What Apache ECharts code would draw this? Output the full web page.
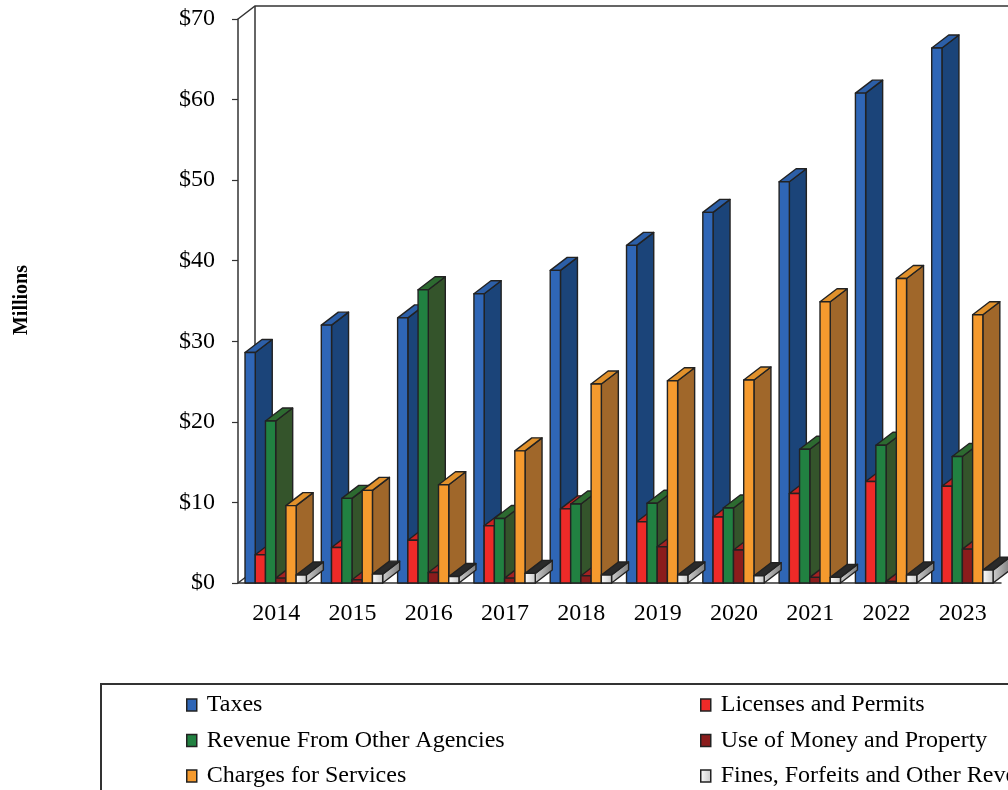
<!DOCTYPE html>
<html>
<head>
    <meta charset="utf-8" />
    <script src="https://cdn.jsdelivr.net/npm/echarts@6/dist/echarts.min.js"></script>
    <title>Revenues</title>
    <style>
        html, body { margin: 0; padding: 0; background: #fff; overflow: hidden; }
        #main { width: 1008px; height: 790px; }
    </style>
</head>
<body>
    <div id="main"></div>
    <script type="text/javascript">
        // categories (fiscal years)
        var years = ['2014', '2015', '2016', '2017', '2018', '2019', '2020', '2021', '2022', '2023'];
        // values in millions of dollars
        var taxes    = [28.6, 32.0, 32.9, 35.9, 38.8, 41.9, 46.0, 49.8, 60.8, 66.4];
        var licenses = [3.5, 4.4, 5.3, 7.1, 9.2, 7.6, 8.2, 11.1, 12.6, 12.0];
        var agencies = [20.1, 10.5, 36.4, 8.0, 9.8, 9.9, 9.3, 16.6, 17.1, 15.7];
        var useMoney = [0.6, 0.4, 1.3, 0.6, 0.9, 4.5, 4.1, 0.7, 0.2, 4.2];
        var charges  = [9.6, 11.5, 12.2, 16.4, 24.7, 25.1, 25.2, 34.9, 37.8, 33.3];
        var fines    = [1.0, 1.1, 0.8, 1.2, 1.0, 1.0, 0.9, 0.7, 1.0, 1.6];
        var yTicks = [0, 10, 20, 30, 40, 50, 60, 70];

        var seriesNames = ['Taxes', 'Licenses and Permits', 'Revenue From Other Agencies',
            'Use of Money and Property', 'Charges for Services', 'Fines, Forfeits and Other Revenue'];
        var seriesData = [taxes, licenses, agencies, useMoney, charges, fines];

        // front / top / side colours for each series
        var faces = [
            { front: '#2f66b6', top: '#2c5fa8', side: '#1b4479' },
            { front: '#ee2a28', top: '#cf2220', side: '#a81c1c' },
            { front: '#218141', top: '#2d6a30', side: '#34542b' },
            { front: '#8b1c1c', top: '#a52222', side: '#5e1212' },
            { front: '#f59a2e', top: '#e1912b', side: '#a0672a' },
            {
                front: new echarts.graphic.LinearGradient(0, 0, 1, 0, [{ offset: 0, color: '#ffffff' }, { offset: 1, color: '#c8c8c8' }]),
                top: '#2a2a2a',
                side: new echarts.graphic.LinearGradient(0, 0, 1, 0, [{ offset: 0, color: '#d0d0d0' }, { offset: 1, color: '#7a7a7a' }])
            }
        ];

        var DX = 17, DY = -13;          // depth offset of the 3d box
        var FONT = 'Liberation Serif, Times New Roman, serif';

        function makeRender(k) {
            return function (params, api) {
                var idx = api.value(0);
                var top = api.coord([idx, api.value(1)]);
                var base = api.coord([idx, 0]);
                var band = api.size([1, 0])[0];
                var w = band * 0.134;
                var x = top[0] - band * 0.408 + k * w;
                var y0 = base[1], y1 = top[1];
                var f = faces[k];
                var st = { stroke: '#222', lineWidth: 1.4, lineJoin: 'round' };
                return {
                    type: 'group',
                    children: [
                        {
                            type: 'polygon',
                            shape: { points: [[x + w, y1], [x + w + DX, y1 + DY], [x + w + DX, y0 + DY], [x + w, y0]] },
                            style: Object.assign({ fill: f.side }, st)
                        },
                        {
                            type: 'polygon',
                            shape: { points: [[x, y1], [x + w, y1], [x + w + DX, y1 + DY], [x + DX, y1 + DY]] },
                            style: Object.assign({ fill: f.top }, st)
                        },
                        {
                            type: 'rect',
                            shape: { x: x, y: y1, width: w, height: y0 - y1 },
                            style: Object.assign({ fill: f.front }, st)
                        }
                    ]
                };
            };
        }

        var series = [];
        for (var k = 0; k < seriesNames.length; k++) {
            var d = [];
            for (var i = 0; i < years.length; i++) {
                d.push([i, seriesData[k][i]]);
            }
            series.push({
                name: seriesNames[k],
                type: 'custom',
                renderItem: makeRender(k),
                itemStyle: { color: k == 5 ? '#e0e0e0' : faces[k].front },
                encode: { x: 0, y: 1 },
                data: d,
                z: 2
            });
        }

        // one legend per entry, laid out in two columns of three rows
        var legendText = { fontFamily: FONT, fontSize: 24, color: '#000', padding: [0, 0, 0, 5] };
        var legends = [];
        for (var n = 0; n < seriesNames.length; n++) {
            legends.push({
                data: [seriesNames[n]],
                left: n % 2 == 0 ? 186 : 700,
                top: 693 + Math.floor(n / 2) * 35.5,
                padding: 0,
                icon: 'rect', itemWidth: 10, itemHeight: 12,
                itemStyle: {
                    borderColor: '#222', borderWidth: 1.5,
                    color: n == 5 ? faces[5].front : faces[n].front
                },
                textStyle: legendText
            });
        }

        var myChart = echarts.init(document.getElementById('main'));
        var option = {
            animation: false,
            grid: { left: 238, right: 7, top: 19, bottom: 207 },
            xAxis: {
                type: 'category',
                data: years,
                axisLine: { show: true, lineStyle: { color: '#333', width: 1.5 } },
                axisTick: { show: false },
                axisLabel: { color: '#000', fontFamily: FONT, fontSize: 24, margin: 19 }
            },
            yAxis: {
                type: 'value',
                min: 0,
                max: 70,
                interval: 10,
                axisLine: { show: true, lineStyle: { color: '#333', width: 1.5 } },
                axisTick: { show: true, length: 6, lineStyle: { color: '#333', width: 1.2 } },
                splitLine: { show: false },
                axisLabel: {
                    color: '#000', fontFamily: FONT, fontSize: 24, margin: 23,
                    formatter: function (v) { return yTicks.indexOf(v) >= 0 ? '$' + v : ''; }
                }
            },
            legend: legends,
            graphic: [
                // back wall and floor edge
                { type: 'polyline', shape: { points: [[238, 19], [255, 6], [1010, 6]] }, style: { stroke: '#333', lineWidth: 1.5, fill: null }, z: 1 },
                { type: 'line', shape: { x1: 255, y1: 6, x2: 255, y2: 570 }, style: { stroke: '#333', lineWidth: 1.5 }, z: 1 },
                { type: 'line', shape: { x1: 238, y1: 583, x2: 255, y2: 570 }, style: { stroke: '#333', lineWidth: 1.5 }, z: 1 },
                // legend box
                { type: 'rect', shape: { x: 101, y: 684, width: 920, height: 120 }, style: { stroke: '#333', lineWidth: 2, fill: null }, z: 0 },
                // axis title
                {
                    type: 'text', x: 22, y: 300, rotation: Math.PI / 2,
                    style: { text: 'Millions', fontFamily: FONT, fontSize: 20, fontWeight: 'bold', fill: '#000', align: 'center', verticalAlign: 'middle' }
                }
            ],
            series: series
        };
        myChart.setOption(option);
    </script>
</body>
</html>
